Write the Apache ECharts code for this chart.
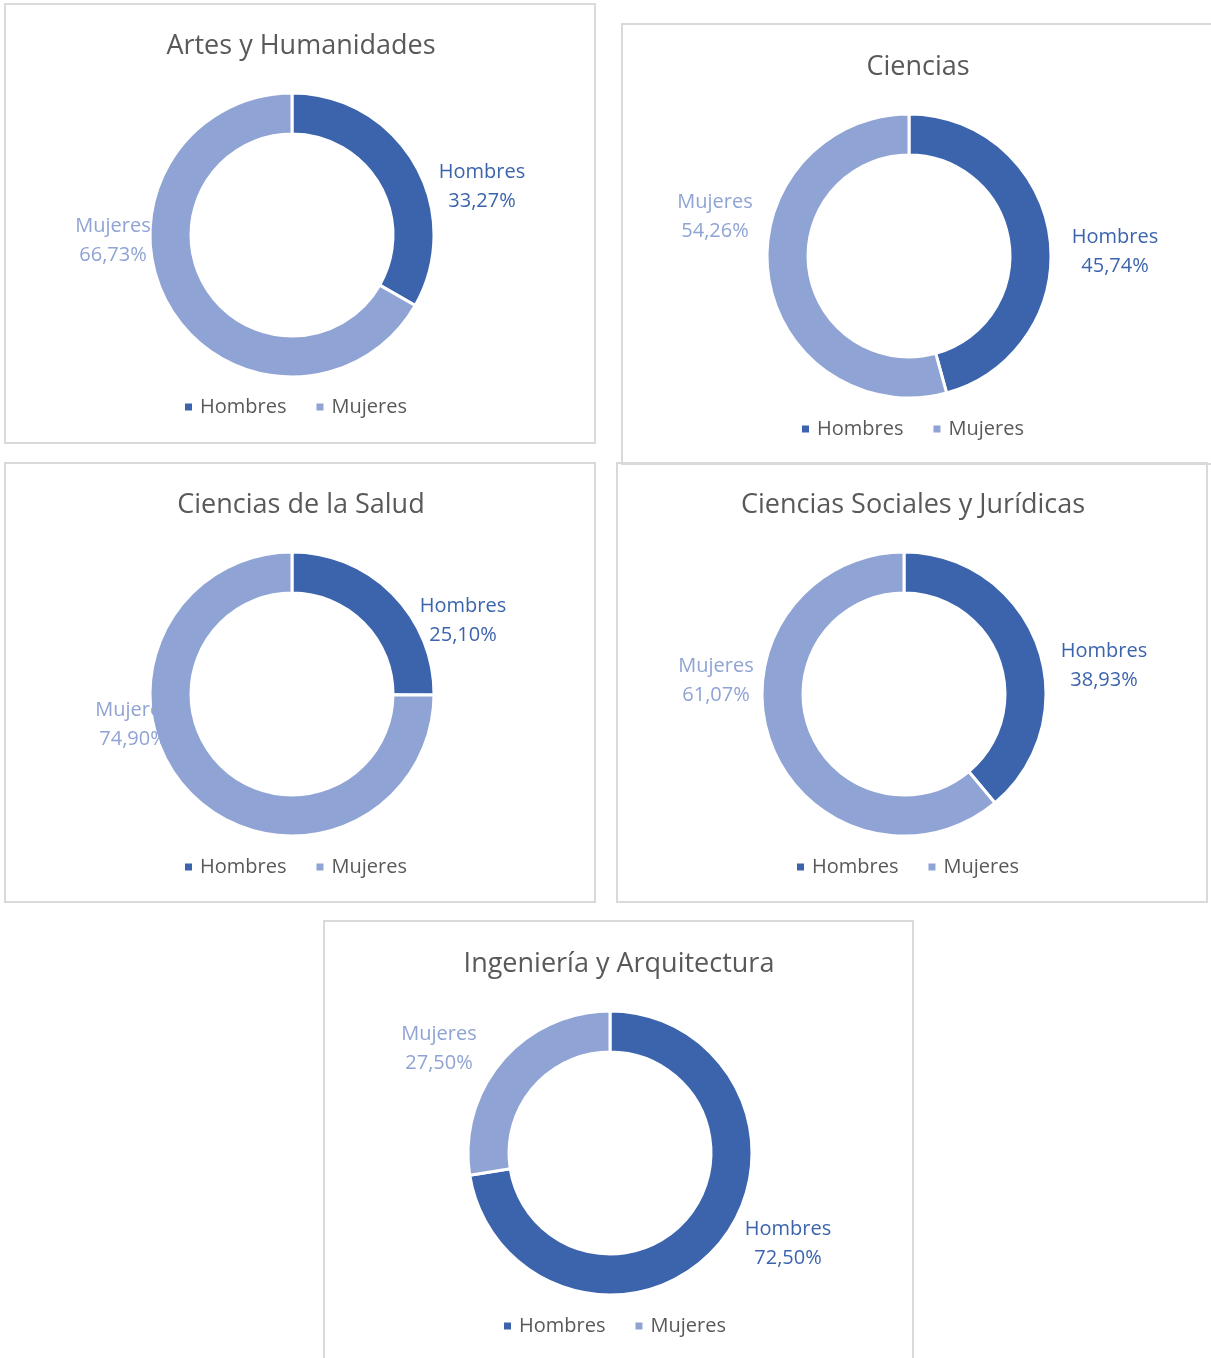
<!DOCTYPE html>
<html>
<head>
<meta charset="utf-8">
<script src="https://cdn.jsdelivr.net/npm/echarts@6/dist/echarts.min.js"></script>
<style>
html,body{margin:0;padding:0;background:#fff;}
#chart{width:1211px;height:1358px;}
</style>
</head>
<body>
<div id="chart"></div>
<script>
// ---- data ----
const categories = ['Artes y Humanidades', 'Ciencias', 'Ciencias de la Salud', 'Ciencias Sociales y Jurídicas', 'Ingeniería y Arquitectura'];
const seriesNames = ['Hombres', 'Mujeres'];
const hombres = [33.27, 45.74, 25.10, 38.93, 72.50];
const mujeres = [66.73, 54.26, 74.90, 61.07, 27.50];

// ---- layout (positions only) ----
const panels = [
  {box: [5, 4, 590, 439],    cx: 292, cy: 235,  titleX: 300, titleY: 44,  legendX: 182, legendY: 405, lbl: [[190, -49], [-179, 5]]},
  {box: [622, 24, 600, 440], cx: 909, cy: 256,  titleX: 917, titleY: 65,  legendX: 799, legendY: 427, lbl: [[206, -5], [-194, -40]]},
  {box: [5, 463, 590, 439],  cx: 292, cy: 694,  titleX: 300, titleY: 503, legendX: 182, legendY: 865, lbl: [[171, -74], [-159, 30]]},
  {box: [617, 463, 590, 439],cx: 904, cy: 694,  titleX: 912, titleY: 503, legendX: 794, legendY: 865, lbl: [[200, -29], [-188, -14]]},
  {box: [324, 921, 589, 450],cx: 610, cy: 1153, titleX: 618, titleY: 962, legendX: 501, legendY: 1324, lbl: [[178, 90], [-171, -105]]}
];
const colors = ['#3C64AD', '#8FA3D4'];
const FONT = '"Open Sans", "Noto Sans", sans-serif';

const fmt = v => v.toFixed(2).replace('.', ',') + '%';

const option = {
  animation: false,
  color: colors,
  title: panels.map((p, i) => ({
    text: categories[i],
    left: p.titleX - 4,
    top: p.titleY - 16,
    textAlign: 'center',
    textStyle: {fontFamily: FONT, fontWeight: 400, fontSize: 27, color: '#595959'}
  })),
  legend: panels.map((p, i) => ({
    data: seriesNames,
    left: p.legendX - 4,
    top: p.legendY - 13,
    icon: 'rect',
    itemWidth: 9,
    itemHeight: 9,
    itemGap: 28,
    selectedMode: false,
    textStyle: {fontFamily: FONT, fontSize: 20, color: '#595959', padding: [0, 0, 0, 2]}
  })),
  graphic: panels.map(p => ({
    type: 'rect',
    silent: true,
    shape: {x: p.box[0], y: p.box[1], width: p.box[2], height: p.box[3]},
    style: {fill: 'none', stroke: '#D9D9D9', lineWidth: 2}
  })),
  series: panels.map((p, i) => ({
    type: 'pie',
    name: categories[i],
    center: [p.cx, p.cy],
    radius: [101, 142],
    startAngle: 90,
    clockwise: true,
    avoidLabelOverlap: false,
    itemStyle: {borderColor: '#fff', borderWidth: 3},
    emphasis: {disabled: true},
    labelLine: {show: false},
    label: {
      show: true,
      position: 'outside',
      fontFamily: FONT,
      fontSize: 20,
      lineHeight: 29,
      formatter: d => d.name + '\n' + fmt(d.value)
    },
    labelLayout: params => {
      const o = p.lbl[params.dataIndex];
      return {x: p.cx + o[0], y: p.cy + o[1] + 1, align: 'center', verticalAlign: 'middle'};
    },
    data: [
      {name: seriesNames[0], value: hombres[i], itemStyle: {color: colors[0]}, label: {color: colors[0]}},
      {name: seriesNames[1], value: mujeres[i], itemStyle: {color: colors[1]}, label: {color: colors[1]}}
    ]
  }))
};

const chart = echarts.init(document.getElementById('chart'), null, {renderer: 'canvas'});
chart.setOption(option);
</script>
</body>
</html>
